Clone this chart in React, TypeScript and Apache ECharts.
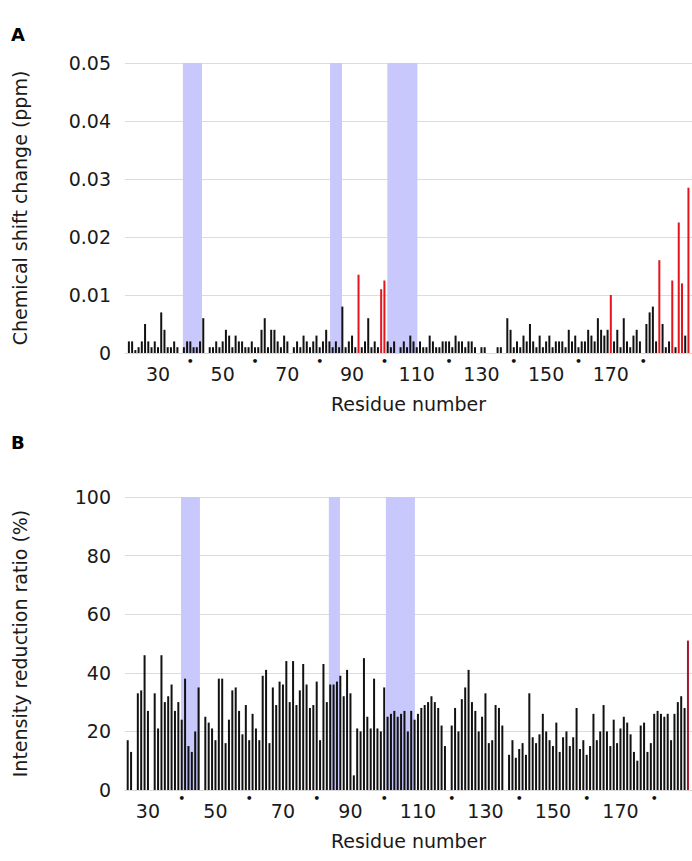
import React, { useEffect, useRef } from "react";
import * as echarts from "echarts";

// Panel A: chemical shift change, residues 21..194
const residueStartA = 21;
const shiftValues: (number | null)[] = [
  0.002, 0.002, 0.0005, 0.001, 0.002, 0.005, 0.002, 0.001, 0.002, 0.001,
  0.007, 0.004, 0.001, 0.001, 0.002, 0.001, null, 0.001, 0.002, 0.002,
  0.001, 0.001, 0.002, 0.006, null, 0.001, 0.001, 0.002, 0.001, 0.002,
  0.004, 0.003, 0.001, 0.003, 0.002, 0.002, 0.001, 0.001, 0.002, 0.001,
  0.001, 0.004, 0.006, 0.001, 0.004, 0.004, 0.002, 0.001, 0.003, 0.002,
  null, 0.001, 0.002, 0.001, 0.003, 0.002, 0.001, 0.002, 0.003, 0.001,
  0.002, 0.004, 0.002, 0.001, 0.002, 0.001, 0.008, 0.001, 0.002, 0.003,
  0.001, 0.0135, 0.001, 0.002, 0.006, 0.001, 0.002, 0.001, 0.011, 0.0125,
  0.002, 0.001, 0.002, null, 0.001, 0.002, 0.001, 0.003, 0.002, 0.001,
  0.002, 0.001, 0.001, 0.003, 0.002, 0.001, 0.001, 0.002, 0.002, 0.002,
  0.001, 0.003, 0.002, 0.002, 0.001, 0.002, 0.002, 0.001, null, 0.001,
  0.001, null, null, null, 0.001, 0.001, null, 0.006, 0.004, 0.001,
  0.002, 0.001, 0.003, 0.002, 0.005, 0.002, 0.001, 0.003, 0.001, 0.002,
  0.003, 0.001, 0.002, 0.002, 0.002, 0.001, 0.004, 0.002, 0.003, 0.001,
  0.002, 0.002, 0.004, 0.003, 0.002, 0.006, 0.004, 0.003, 0.004, 0.01,
  0.002, 0.004, 0.001, 0.006, 0.002, 0.001, 0.003, 0.004, 0.002, null,
  0.005, 0.007, 0.008, 0.002, 0.016, 0.005, 0.001, 0.002, 0.0125, 0.001,
  0.0225, 0.012, 0.003, 0.0285,
];
const redResiduesA = [92, 99, 100, 170, 185, 189, 191, 192, 194];
const bandRangesA: [number, number][] = [
  [37.7, 43.6],
  [83.2, 86.9],
  [100.9, 110.2],
];
const xRangeA: [number, number] = [19.8, 195.1];

// Panel B: intensity reduction ratio, residues 24..190
const residueStartB = 24;
const intensityValues: (number | null)[] = [
  17, 13, null, 33, 34, 46, 27, null, 33, 21,
  46, 30, 32, 36, 27, 30, 24, 38, 15, 13,
  20, 35, null, 25, 23, 21, 17, 38, 38, 16,
  24, 34, 35, 27, 19, 29, 17, 26, 21, 17,
  39, 41, 16, 35, 29, 37, 36, 44, 30, 44,
  29, 34, 43, 36, 28, 29, 37, 17, 43, 30,
  36, 36, 37, 39, 32, 41, 33, 5, 21, 20,
  45, 25, 21, 38, 21, 20, 35, 25, 26, 27,
  25, 26, 27, 20, 27, 24, 26, 28, 29, 30,
  32, 30, 28, 22, 15, null, 22, 28, 20,
  31, 35, 41, 30, 27, 20, 25, 33, 16, 17,
  29, 28, 22, null, 12, 17, 11, 14, 16, 12,
  33, 18, 16, 19, 26, 20, 17, 15, 23, 13,
  18, 20, 15, 18, 28, 14, 17, 12, 15, 26,
  17, 20, 29, 20, 15, 24, 16, 21, 25, 23,
  19, 13, 10, 22, 23, 13, 16, 26, 27,
  26, 25, 26, 17, 26, 30, 32, 28, 51,
];
const redResiduesB = [190];
const bandRangesB: [number, number][] = [
  [39.8, 45.4],
  [83.6, 86.9],
  [100.5, 109.1],
];
const xRangeB: [number, number] = [23.2, 191.2];

const xLabelValues = [30, 50, 70, 90, 110, 130, 150, 170];
const xDotValues = [40, 60, 80, 100, 120, 140, 160, 180];
const shiftTicks = [0, 0.01, 0.02, 0.03, 0.04, 0.05];
const intensityTicks = [0, 20, 40, 60, 80, 100];

const FONT = "DejaVu Sans";
const TXT = "#1a1a1a";
const FS = 19;

export default function App() {
  const ref = useRef<HTMLDivElement>(null);
  useEffect(() => {
    if (!ref.current) return;
    const chart = echarts.init(ref.current, undefined, { renderer: "svg" });

    const mkData = (start: number, vals: (number | null)[], reds: number[], red: string) =>
      vals
        .map((v, i) => ({ r: start + i, v }))
        .filter((d) => d.v !== null)
        .map((d) => ({
          value: [d.r, d.v],
          itemStyle: { color: reds.includes(d.r) ? red : "#111111" },
        }));

    const numAxis = (gi: number, range: [number, number]) => ({
      type: "value",
      gridIndex: gi,
      min: range[0],
      max: range[1],
      axisLine: { show: true, lineStyle: { color: "#d9d9d9", width: 1 } },
      axisTick: { show: false },
      splitLine: { show: false },
      axisLabel: {
        customValues: xLabelValues,
        formatter: (v: number) => String(v),
        fontSize: FS,
        fontFamily: FONT,
        color: TXT,
        margin: 11,
      },
      name: "Residue number",
      nameLocation: "middle",
      nameGap: 41,
      nameTextStyle: { fontSize: FS, fontFamily: FONT, color: TXT },
    });
    const dotAxis = (gi: number, range: [number, number]) => ({
      type: "value",
      gridIndex: gi,
      position: "bottom",
      min: range[0],
      max: range[1],
      axisLine: { show: false },
      axisTick: { show: false },
      splitLine: { show: false },
      axisLabel: {
        customValues: xDotValues,
        formatter: () => "•",
        fontSize: 11,
        fontWeight: "bold",
        fontFamily: FONT,
        color: "#111",
        margin: 3,
      },
    });
    const yAxis = (gi: number, ticks: number[], name: string, fmt: (v: number) => string) => ({
      type: "value",
      gridIndex: gi,
      min: ticks[0],
      max: ticks[ticks.length - 1],
      interval: ticks[1] - ticks[0],
      axisLine: { show: false },
      axisTick: { show: false },
      splitLine: { show: true, lineStyle: { color: "#dcdcdc", width: 1 } },
      axisLabel: { formatter: fmt, fontSize: FS, fontFamily: FONT, color: TXT, margin: 14 },
      name,
      nameLocation: "middle",
      nameRotate: 90,
      nameGap: 96,
      nameTextStyle: { fontSize: FS, fontFamily: FONT, color: TXT },
    });

    const bandSeries = (xi: number, yi: number, bands: [number, number][], x0: number) => ({
      type: "line",
      xAxisIndex: xi,
      yAxisIndex: yi,
      data: [[x0, 0]],
      symbol: "none",
      lineStyle: { opacity: 0 },
      z: 1,
      markArea: {
        silent: true,
        itemStyle: { color: "rgb(200,200,252)" },
        data: bands.map(([a, b]) => [{ xAxis: a }, { xAxis: b }]),
      },
    });

    chart.setOption({
      animation: false,
      backgroundColor: "#ffffff",
      title: [
        { text: "A", left: 6, top: 20, textStyle: { fontSize: 18, fontWeight: "bold", fontFamily: FONT, color: "#000" } },
        { text: "B", left: 6, top: 428, textStyle: { fontSize: 18, fontWeight: "bold", fontFamily: FONT, color: "#000" } },
      ],
      grid: [
        { left: 125, right: 0, top: 63, height: 290 },
        { left: 125, right: 0, top: 497, height: 293 },
      ],
      xAxis: [numAxis(0, xRangeA), dotAxis(0, xRangeA), numAxis(1, xRangeB), dotAxis(1, xRangeB)],
      yAxis: [
        yAxis(0, shiftTicks, "Chemical shift change (ppm)", (v) => (v === 0 ? "0" : v.toFixed(2))),
        yAxis(1, intensityTicks, "Intensity reduction ratio (%)", (v) => String(v)),
      ],
      series: [
        bandSeries(0, 0, bandRangesA, xRangeA[0]),
        bandSeries(2, 1, bandRangesB, xRangeB[0]),
        {
          type: "bar",
          xAxisIndex: 0,
          yAxisIndex: 0,
          barWidth: 2,
          z: 3,
          data: mkData(residueStartA, shiftValues, redResiduesA, "#e3141c"),
        },
        {
          type: "bar",
          xAxisIndex: 2,
          yAxisIndex: 1,
          barWidth: 2,
          z: 3,
          data: mkData(residueStartB, intensityValues, redResiduesB, "#a3172e"),
        },
      ],
    });
    return () => chart.dispose();
  }, []);
  return (
    <div
      ref={ref}
      style={{ position: "fixed", left: 0, top: 0, width: 692, height: 861, background: "#fff" }}
    />
  );
}
